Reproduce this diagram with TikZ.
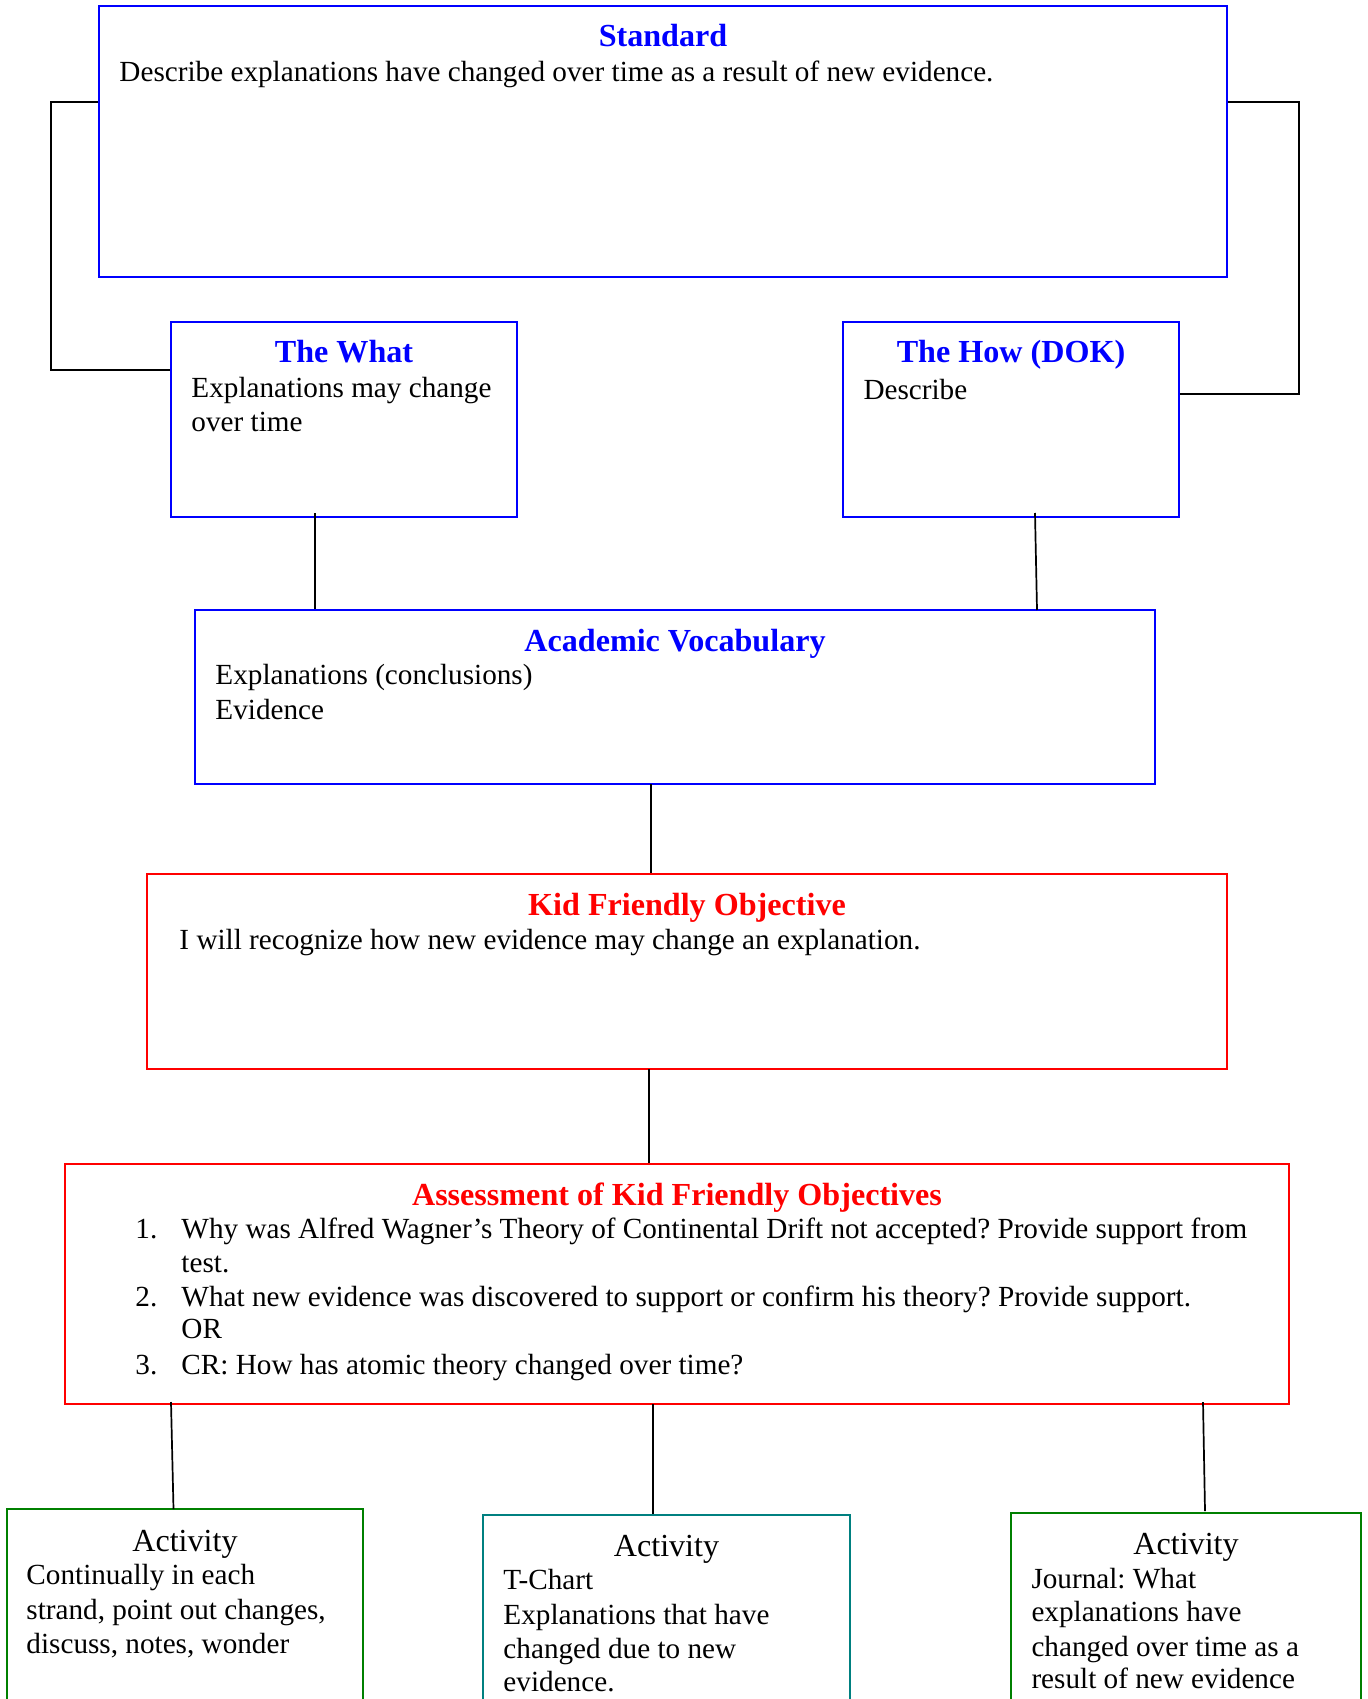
\documentclass[tikz,border=0pt]{standalone}
\usepackage{fontspec}
\setmainfont{Liberation Serif}
\usetikzlibrary{fit}
\frenchspacing
\definecolor{hdrblue}{RGB}{0,0,255}
\definecolor{hdrred}{RGB}{255,0,0}
\definecolor{actgreen}{RGB}{0,128,0}
\definecolor{actteal}{RGB}{0,128,128}
\tikzset{
  panel/.style={draw, line width=0.82pt, inner sep=0pt, fill=none},
  bluebox/.style={panel, draw=hdrblue},
  redbox/.style={panel, draw=hdrred},
  greenbox/.style={panel, draw=actgreen},
  tealbox/.style={panel, draw=actteal},
  ttl/.style={anchor=base, inner sep=0pt, font=\fontsize{13.2}{15}\selectfont\bfseries},
  acttitle/.style={anchor=base, inner sep=0pt, font=\fontsize{13.2}{15}\selectfont},
  body/.style={anchor=base west, inner sep=0pt, font=\fontsize{12}{14}\selectfont},
  link/.style={draw=black, line width=0.7pt},
}
\begin{document}
\begin{tikzpicture}[x=0.411pt, y=-0.411pt]
\useasboundingbox (0,0) rectangle (1367,1699);
\clip (0,0) rectangle (1367,1699);

% ---- boxes ----
\node[bluebox, fit={(99,6) (1227,277)}] (std) {};
\node[bluebox, fit={(171,322) (517,517)}] (what) {};
\node[bluebox, fit={(843,322) (1179,517)}] (how) {};
\node[bluebox, fit={(195,610) (1155,784)}] (acad) {};
\node[redbox, fit={(147,874) (1227,1069)}] (kid) {};
\node[redbox, fit={(65,1164) (1289,1404)}] (assess) {};
\node[greenbox, fit={(7,1509) (363,1720)}] (act1) {};
\node[tealbox, fit={(483,1515) (850,1720)}] (act2) {};
\node[greenbox, fit={(1011,1513) (1361,1720)}] (act3) {};

% ---- Standard ----
\node[ttl, text=hdrblue] (stdT) at (663,47) {Standard};
\node[body] (stdL1) at (119,82) {Describe explanations have changed over time as a result of new evidence.};

% ---- The What ----
\node[ttl, text=hdrblue] (whatT) at (344,363) {The What};
\node[body] (whatL1) at (191,398) {Explanations may change};
\node[body] (whatL2) at (191,432) {over time};

% ---- The How ----
\node[ttl, text=hdrblue] (howT) at (1011,363) {The How (DOK)};
\node[body] (howL1) at (863,399) {Describe};

% ---- Academic Vocabulary ----
\node[ttl, text=hdrblue] (acadT) at (675,651) {Academic Vocabulary};
\node[body] (acadL1) at (215,684.5) {Explanations (conclusions)};
\node[body] (acadL2) at (215,719) {Evidence};

% ---- Kid Friendly Objective ----
\node[ttl, text=hdrred] (kidT) at (687,915) {Kid Friendly Objective};
\node[body] (kidL1) at (179,949) {I will recognize how new evidence may change an explanation.};

% ---- Assessment ----
\node[ttl, text=hdrred] (asT) at (677,1205) {Assessment of Kid Friendly Objectives};
\node[body] (asN1) at (135,1238.5) {1.};
\node[body] (asL1) at (181,1238.5) {Why was Alfred Wagner’s Theory of Continental Drift not accepted? Provide support from};
\node[body] (asL1b) at (181,1272.4) {test.};
\node[body] (asN2) at (135,1306.4) {2.};
\node[body] (asL2) at (181,1306.4) {What new evidence was discovered to support or confirm his theory? Provide support.};
\node[body] (asL2b) at (181,1338.5) {OR};
\node[body] (asN3) at (135,1374) {3.};
\node[body] (asL3) at (181,1374) {CR: How has atomic theory changed over time?};

% ---- Activities ----
\node[acttitle] (a1T) at (185,1551) {Activity};
\node[body] (a1L1) at (26,1584) {Continually in each};
\node[body] (a1L2) at (26,1619) {strand, point out changes,};
\node[body] (a1L3) at (26,1653) {discuss, notes, wonder};

\node[acttitle] (a2T) at (666.5,1556) {Activity};
\node[body] (a2L1) at (503,1589) {T-Chart};
\node[body] (a2L2) at (503,1624) {Explanations that have};
\node[body] (a2L3) at (503,1658) {changed due to new};
\node[body] (a2L4) at (503,1691) {evidence.};

\node[acttitle] (a3T) at (1186,1554) {Activity};
\node[body] (a3L1) at (1031,1588) {Journal: What};
\node[body] (a3L2) at (1031,1621) {explanations have};
\node[body] (a3L3) at (1031,1656) {changed over time as a};
\node[body] (a3L4) at (1031,1688) {result of new evidence};

% ---- connector bends and ends ----
\coordinate (lbTop) at (51,102);
\coordinate (lbBot) at (51,370);
\coordinate (rbTop) at (1299,102);
\coordinate (rbBot) at (1299,394);
\coordinate (whatDrop) at (315,513);
\coordinate (howDrop) at (1035,513);
\coordinate (howLand) at (1037,610);
\coordinate (acadDrop) at (651,784);
\coordinate (kidDrop) at (649,1069);
\coordinate (asDrop1) at (171,1402);
\coordinate (asLand1) at (173.5,1509);
\coordinate (asDrop2) at (653,1404);
\coordinate (asDrop3) at (1203,1402);
\coordinate (asLand3) at (1205,1511);

% ---- connectors ----
\draw[link] (std.west |- lbTop) -- (lbTop) -- (lbBot) -- (what.west |- lbBot);
\draw[link] (std.east |- rbTop) -- (rbTop) -- (rbBot) -- (how.east |- rbBot);
\draw[link] (whatDrop) -- (whatDrop |- acad.north);
\draw[link] (howDrop) -- (howLand);
\draw[link] (acadDrop) -- (acadDrop |- kid.north);
\draw[link] (kidDrop) -- (kidDrop |- assess.north);
\draw[link] (asDrop1) -- (asLand1);
\draw[link] (asDrop2) -- (asDrop2 |- act2.north);
\draw[link] (asDrop3) -- (asLand3);
\end{tikzpicture}
\end{document}
